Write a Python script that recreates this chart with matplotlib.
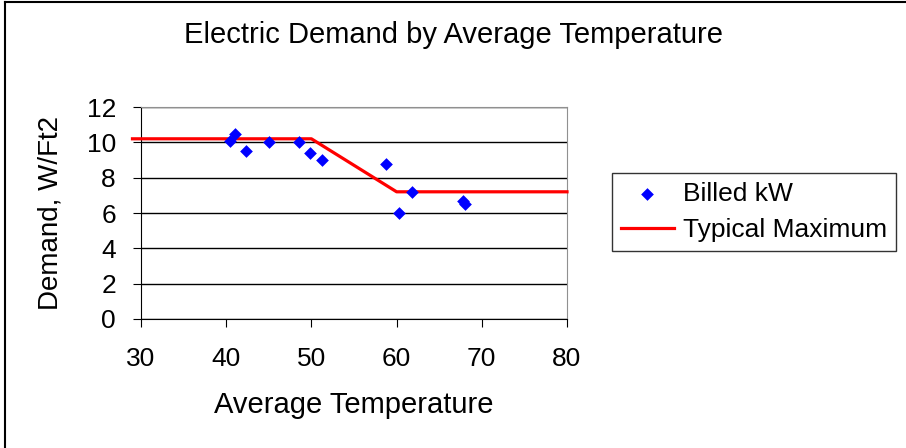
import matplotlib
matplotlib.use("Agg")
import matplotlib.pyplot as plt
from matplotlib.lines import Line2D

plt.rcParams['font.family'] = ['Liberation Sans', 'DejaVu Sans']

# billed demand readings
temp = [40.5, 41.0, 42.3, 45.0, 48.6, 49.8, 51.2, 58.7, 60.3, 61.8, 67.8, 68.0]
demand = [10.05, 10.5, 9.5, 10.0, 10.0, 9.4, 9.0, 8.8, 6.0, 7.2, 6.7, 6.5]

# typical maximum curve
max_temp = [29, 50, 60, 80]
max_demand = [10.2, 10.2, 7.2, 7.2]

W, H = 906, 448
fig = plt.figure(figsize=(W / 100, H / 100), dpi=100)

# chart frame: top and left edges only
fig.lines.append(Line2D([5 / W, 1], [1 - 2.5 / H, 1 - 2.5 / H], transform=fig.transFigure,
                        color='black', linewidth=1.5))
fig.lines.append(Line2D([5 / W, 5 / W], [0, 1 - 2.5 / H], transform=fig.transFigure,
                        color='black', linewidth=1.5))

ax = fig.add_axes([141 / W, 1 - 319 / H, 426 / W, 212 / H])
ax.plot(max_temp, max_demand, color='#ff0000', linewidth=2.3, clip_on=False,
        label='Typical Maximum', zorder=3)
ax.scatter(temp, demand, marker='D', s=42, color='#0000ff', label='Billed kW',
           zorder=4, linewidths=0)

ax.set_xlim(30, 80)
ax.set_ylim(0, 12)
ax.set_xticks(range(30, 81, 10))
ax.set_yticks(range(0, 13, 2))
ax.grid(axis='y', color='black', linewidth=1)
ax.set_axisbelow(True)
for side in ('top', 'right'):
    ax.spines[side].set_color('#909090')
for side in ('left', 'bottom'):
    ax.spines[side].set_color('black')
ax.tick_params(direction='out', length=6, color='black', labelsize=19)
ax.tick_params(axis='x', pad=14)
ax.tick_params(axis='y', pad=12)

ax.set_xlabel('Average Temperature', fontsize=21, va='center')
ax.xaxis.set_label_coords(0.5, (319 - 405) / 212)
ax.set_ylabel('Demand, W/Ft2', fontsize=20, va='center')
ax.yaxis.set_label_coords((51 - 141) / 426, 0.5)

fig.text(0.5, 1 - 43 / H, 'Electric Demand by Average Temperature',
         ha='center', va='baseline', fontsize=21)

handles, labels = ax.get_legend_handles_labels()
leg = fig.legend(handles[::-1], labels[::-1], loc='center',
                 bbox_to_anchor=(754 / W, 1 - 212 / H),
                 fontsize=19, frameon=True, fancybox=False, edgecolor='black',
                 handlelength=2.0, handletextpad=0.35, borderpad=0.35,
                 labelspacing=0.45, borderaxespad=0)
leg.get_frame().set_linewidth(1)

fig.savefig('out.png', dpi=100)
